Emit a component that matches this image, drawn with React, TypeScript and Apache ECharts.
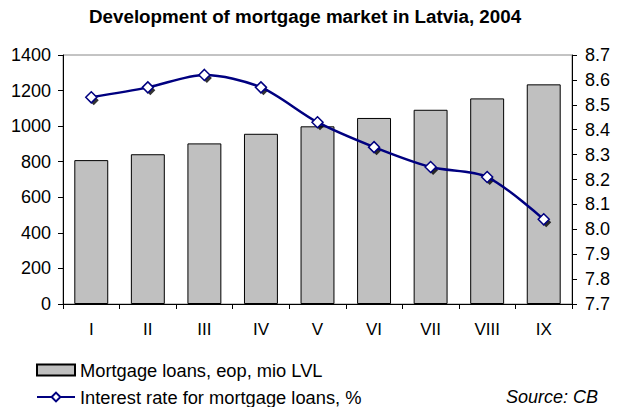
import React, { useEffect, useRef } from "react";
import * as echarts from "echarts";

const months = ["I", "II", "III", "IV", "V", "VI", "VII", "VIII", "IX"];
const loans = [809, 842, 903, 957, 999, 1046, 1092, 1156, 1235];
const rates = [8.53, 8.57, 8.62, 8.57, 8.43, 8.33, 8.25, 8.21, 8.04];
const leftTicks = { min: 0, max: 1400, step: 200 };
const rightTicks = { min: 7.7, max: 8.7, step: 0.1 };
const barName = "Mortgage loans, eop, mio LVL";
const lineName = "Interest rate for mortgage loans, %";

export default function App() {
  const ref = useRef<HTMLDivElement>(null);
  useEffect(() => {
    document.body.style.margin = "0";
    if (!ref.current) return;
    const chart = echarts.init(ref.current, null, { renderer: "svg" });
    const font = "'Liberation Sans', Arial, sans-serif";
    chart.setOption({
      animation: false,
      backgroundColor: "#fff",
      textStyle: { fontFamily: font, color: "#000" },
      title: {
        text: "Development of mortgage market in Latvia, 2004",
        left: 89,
        top: 7,
        padding: 0,
        textStyle: { fontFamily: font, fontSize: 18.8, fontWeight: "bold", color: "#000" },
      },
      grid: {
        left: 63,
        right: 47,
        top: 55,
        bottom: 103,
        show: true,
        borderColor: "#888",
        borderWidth: 1,
        backgroundColor: "transparent",
      },
      legend: {
        orient: "vertical",
        left: 36,
        top: 361,
        padding: 0,
        itemWidth: 38,
        itemHeight: 11,
        itemGap: 9,
        textStyle: { fontFamily: font, fontSize: 18.3, color: "#000" },
        data: [
          { name: barName, icon: "rect" },
          { name: lineName },
        ],
      },
      graphic: [
        {
          type: "text",
          right: 21,
          top: 388,
          style: { text: "Source: CB", fontFamily: font, fontSize: 18, fontStyle: "italic", fill: "#000" },
        },
      ],
      xAxis: {
        type: "category",
        data: months,
        boundaryGap: true,
        axisLine: { lineStyle: { color: "#000", width: 1 } },
        axisTick: { show: true, interval: 0, length: 5, lineStyle: { color: "#000" } },
        axisLabel: { fontSize: 17, color: "#000", margin: 17, fontFamily: font },
      },
      yAxis: [
        {
          type: "value",
          min: leftTicks.min,
          max: leftTicks.max,
          interval: leftTicks.step,
          axisLine: { show: true, lineStyle: { color: "#000" } },
          axisTick: { show: true, length: 5, lineStyle: { color: "#000" } },
          splitLine: { show: false },
          axisLabel: {
            fontSize: 18,
            color: "#000",
            margin: 12,
            fontFamily: font,
            formatter: (v: number) => String(v),
          },
        },
        {
          type: "value",
          min: rightTicks.min,
          max: rightTicks.max,
          interval: rightTicks.step,
          position: "right",
          axisLine: { show: true, lineStyle: { color: "#000" } },
          axisTick: { show: true, length: 5, lineStyle: { color: "#000" } },
          splitLine: { show: false },
          axisLabel: {
            fontSize: 18,
            color: "#000",
            margin: 13,
            fontFamily: font,
            formatter: (v: number) => v.toFixed(1),
          },
        },
      ],
      series: [
        {
          name: barName,
          type: "bar",
          data: loans,
          barWidth: "60%",
          itemStyle: { color: "#c0c0c0", borderColor: "#000", borderWidth: 1 },
        },
        {
          name: "shadow",
          type: "scatter",
          yAxisIndex: 1,
          data: rates,
          symbol: "diamond",
          symbolSize: 10,
          symbolOffset: [2.5, 3],
          itemStyle: { color: "#000" },
          silent: true,
        },
        {
          name: lineName,
          type: "line",
          yAxisIndex: 1,
          data: rates,
          smooth: 0.3,
          symbol: "diamond",
          symbolSize: 11,
          lineStyle: { color: "#000080", width: 2.5 },
          itemStyle: {
            color: "#fff",
            borderColor: "#000080",
            borderWidth: 1.5,
          },
        },
      ],
    });
    return () => chart.dispose();
  }, []);
  return <div ref={ref} style={{ width: 619, height: 407 }} />;
}
